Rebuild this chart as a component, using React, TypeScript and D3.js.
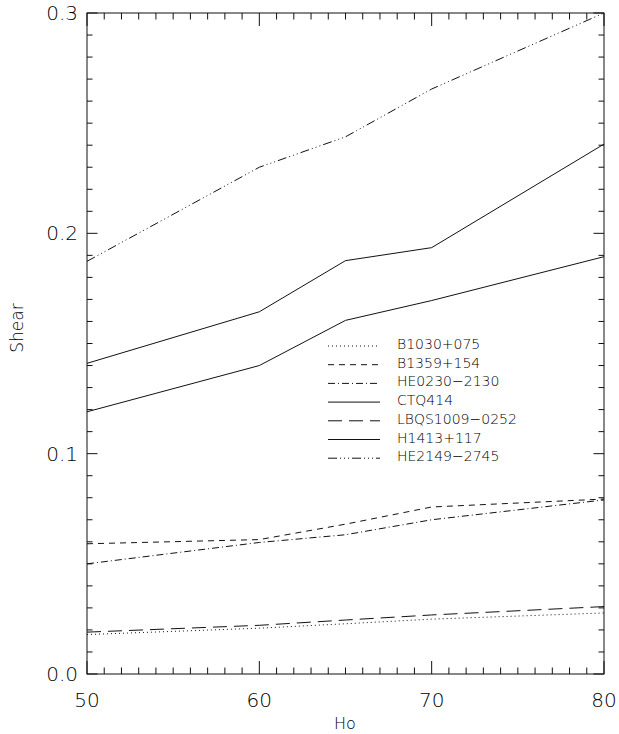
import React from 'react';
import * as d3 from 'd3';

// Ho values where the shear was computed
const hoValues = [50, 60, 65, 70, 80];

// shear for each lens system
const b1030 = [0.0179, 0.0208, 0.0228, 0.0249, 0.0277];
const b1359 = [0.0591, 0.061, 0.068, 0.0758, 0.0794];
const he0230 = [0.05, 0.0597, 0.0632, 0.07, 0.079];
const ctq414 = [0.141, 0.1644, 0.1876, 0.1935, 0.2405];
const lbqs1009 = [0.019, 0.0221, 0.0245, 0.0268, 0.0306];
const h1413 = [0.119, 0.14, 0.1605, 0.1695, 0.1894];
const he2149 = [0.1873, 0.230, 0.2438, 0.2655, 0.300];

const seriesNames = ['B1030+075', 'B1359+154', 'HE0230\u22122130', 'CTQ414', 'LBQS1009\u22120252', 'H1413+117', 'HE2149\u22122745'];
const seriesValues = [b1030, b1359, he0230, ctq414, lbqs1009, h1413, he2149];
// IDL linestyles: dotted, dashed, dash-dot, solid, long dash, solid, dash-dot-dot-dot
const dashes = ['1,3', '6,5', '7,3,1,3', 'none', '14,7', 'none', '9,3,1,3,1,3,1,3'];

const xTicks = [50, 60, 70, 80];
const yTicks = [0.0, 0.1, 0.2, 0.3];

const left = 87, right = 604, top = 13, bottom = 674;
const font = "'DejaVu Sans', sans-serif";

const App = () => {
  const x = d3.scaleLinear().domain([50, 80]).range([left, right]);
  const y = d3.scaleLinear().domain([0, 0.3]).range([bottom, top]);
  const line = d3.line<number>().x((d, i) => x(hoValues[i])).y(d => y(d));

  const xMinor = d3.range(50, 81, 1);
  const yMinor = d3.range(0, 31, 1).map(v => v / 100);
  const xMaj = 13, xMin = 6.5, yMaj = 10.5, yMin = 5.5;

  const legX = 328, legY = 343, legStep = 18.7;

  return (
    <svg width={619} height={734} style={{ position: 'absolute', left: 0, top: 0 }}>
      <rect x={0} y={0} width={619} height={734} fill="white" />
      <g stroke="#111" strokeWidth={1} fill="none">
        <rect x={left} y={top} width={right - left} height={bottom - top} />
        {xMinor.map(v => {
          const len = v % 10 === 0 ? xMaj : xMin;
          return (
            <g key={'x' + v}>
              <line x1={x(v)} x2={x(v)} y1={bottom} y2={bottom - len} />
              <line x1={x(v)} x2={x(v)} y1={top} y2={top + len} />
            </g>
          );
        })}
        {yMinor.map((v, i) => {
          const len = i % 10 === 0 ? yMaj : yMin;
          return (
            <g key={'y' + i}>
              <line x1={left} x2={left + len} y1={y(v)} y2={y(v)} />
              <line x1={right} x2={right - len} y1={y(v)} y2={y(v)} />
            </g>
          );
        })}
      </g>
      <g fontFamily={font} fontWeight={200} fill="#000">
        {xTicks.map(v => (
          <text key={v} x={x(v)} y={707} fontSize={20} textAnchor="middle">{v}</text>
        ))}
        {yTicks.map(v => (
          <text key={v} x={78} y={y(v) + 7} fontSize={20} textAnchor="end">{v.toFixed(1)}</text>
        ))}
        <text x={345} y={729} fontSize={16} textAnchor="middle">Ho</text>
        <text transform={`translate(23, 328) rotate(-90)`} fontSize={17} textAnchor="middle">Shear</text>
      </g>
      <g fill="none" stroke="#111" strokeWidth={1}>
        {seriesValues.map((vals, i) => (
          <path key={i} d={line(vals) || ''} strokeDasharray={dashes[i]} />
        ))}
      </g>
      <g fontFamily={font} fontWeight={200} fontSize={14} fill="#000">
        {seriesNames.map((name, i) => {
          const yy = legY + i * legStep;
          return (
            <g key={name}>
              <line x1={legX} x2={legX + 52} y1={yy + 3} y2={yy + 3} stroke="#111" strokeDasharray={dashes[i]} />
              <text x={397} y={yy + 6}>{name}</text>
            </g>
          );
        })}
      </g>
    </svg>
  );
};

export default App;
